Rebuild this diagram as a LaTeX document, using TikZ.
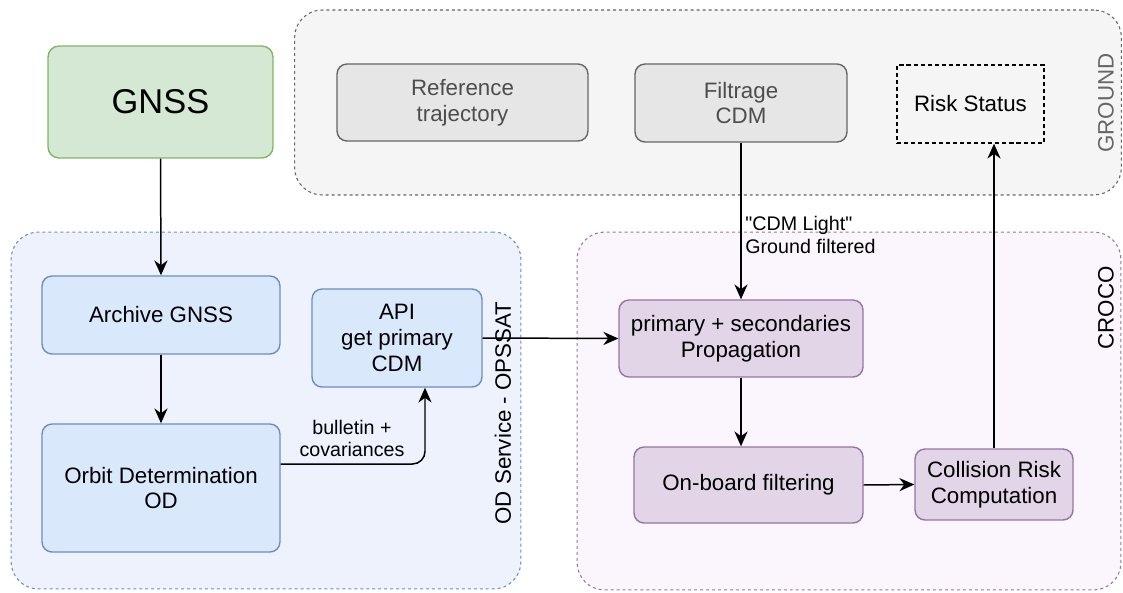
\documentclass[tikz,border=0pt]{standalone}
\usepackage{fontspec}
\setmainfont{Liberation Sans}[Ligatures=TeXOff]
\usetikzlibrary{arrows.meta}
\definecolor{groundzone}{HTML}{F5F5F5}
\definecolor{groundline}{HTML}{666666}
\definecolor{grayfill}{HTML}{E6E6E6}
\definecolor{graytext}{HTML}{4D4D4D}
\definecolor{odzone}{HTML}{EDF2FC}
\definecolor{bluefill}{HTML}{DAE8FC}
\definecolor{blueline}{HTML}{6C8EBF}
\definecolor{crocozone}{HTML}{FBF6FD}
\definecolor{purplefill}{HTML}{E1D5E7}
\definecolor{purpleline}{HTML}{9673A6}
\definecolor{greenfill}{HTML}{D5E8D4}
\definecolor{greenline}{HTML}{82B366}
\begin{document}
\begin{tikzpicture}[x=0.02cm,y=-0.02cm,
    zone/.style={rounded corners=0.55cm, dash pattern=on 1.7pt off 1.7pt, line width=0.6pt},
    box/.style={draw, rounded corners=0.2cm, align=center, line width=0.8pt, inner sep=0pt,
      font=\fontsize{12.7}{14.7}\selectfont},
    groundbox/.style={box, fill=grayfill, draw=groundline, text=graytext},
    odbox/.style={box, fill=bluefill, draw=blueline},
    crocobox/.style={box, fill=purplefill, draw=purpleline},
    zonelabel/.style={rotate=90, font=\fontsize{12.7}{14.7}\selectfont},
    flowlabel/.style={font=\fontsize{11.2}{13}\selectfont, inner sep=0pt},
    flow/.style={-{Stealth[length=8.5pt,width=7.5pt]}, line width=0.85pt}]
  \useasboundingbox (0,0) rectangle (1123,592);

  \node[zone, draw=groundline, fill=groundzone, minimum width=16.54cm, minimum height=3.7cm] (ground) at (708,102.5) {};
  \node[zone, draw=blueline, fill=odzone, minimum width=10.2cm, minimum height=7.14cm] (odservice) at (266,410.5) {};
  \node[zone, draw=purpleline, fill=crocozone, minimum width=10.88cm, minimum height=7.16cm] (croco) at (849,411) {};

  \node[zonelabel, text=groundline] (groundname) at (1106,103) {GROUND};
  \node[zonelabel] (croconame) at (1106,308) {CROCO};
  \node[zonelabel] (odname) at (503,413) {OD Service - OPSSAT};

  \node[box, fill=greenfill, draw=greenline, rounded corners=0.22cm, minimum width=4.5cm, minimum height=2.24cm,
    font=\fontsize{19.6}{22}\selectfont] (gnss) at (160.5,102) {GNSS};

  \node[groundbox, minimum width=5.02cm, minimum height=1.54cm] (reference) at (462.5,102.5) {Reference\\trajectory};
  \node[groundbox, minimum width=4.24cm, minimum height=1.56cm] (filtrage) at (741,103) {Filtrage\\CDM};
  \node[box, rounded corners=0pt, dash pattern=on 2.3pt off 1.7pt, minimum width=2.94cm, minimum height=1.56cm] (risk) at (970.5,104) {Risk Status};

  \node[odbox, minimum width=4.76cm, minimum height=1.56cm] (archive) at (161,315) {Archive GNSS};
  \node[odbox, minimum width=3.4cm, minimum height=1.96cm] (api) at (397,338) {API\\get primary\\CDM};
  \node[odbox, minimum width=4.76cm, minimum height=2.56cm] (orbit) at (161,488) {Orbit Determination\\OD};

  \node[crocobox, minimum width=4.88cm, minimum height=1.54cm] (propagation) at (741,338.5) {primary + secondaries\\Propagation};
  \node[crocobox, minimum width=4.58cm, minimum height=1.52cm] (onboard) at (748.5,485) {On-board filtering};
  \node[crocobox, minimum width=3.16cm, minimum height=1.42cm] (collision) at (994,484.5) {Collision Risk\\Computation};

  \draw[flow] (gnss.south) -- (archive.north);
  \draw[flow] (archive.south) -- (orbit.north);
  \draw[flow, rounded corners=0.25cm] ([yshift=0.48cm]orbit.east) -| ([xshift=0.56cm]api.south);
  \node[flowlabel, align=center] (bulletin) at (352,438.5) {bulletin +\\covariances};
  \draw[flow] (api.east) -- (propagation.west);
  \draw[flow] (filtrage.south) -- (filtrage.south |- propagation.north);
  \node[flowlabel, align=left, anchor=west] (cdmlight) at (745,235) {"CDM Light"\\Ground filtered};
  \draw[flow] (propagation.south) -- (propagation.south |- onboard.north);
  \draw[flow] (onboard.east) -- (collision.west);
  \draw[flow] (collision.north) -- (collision.north |- risk.south);
\end{tikzpicture}
\end{document}
